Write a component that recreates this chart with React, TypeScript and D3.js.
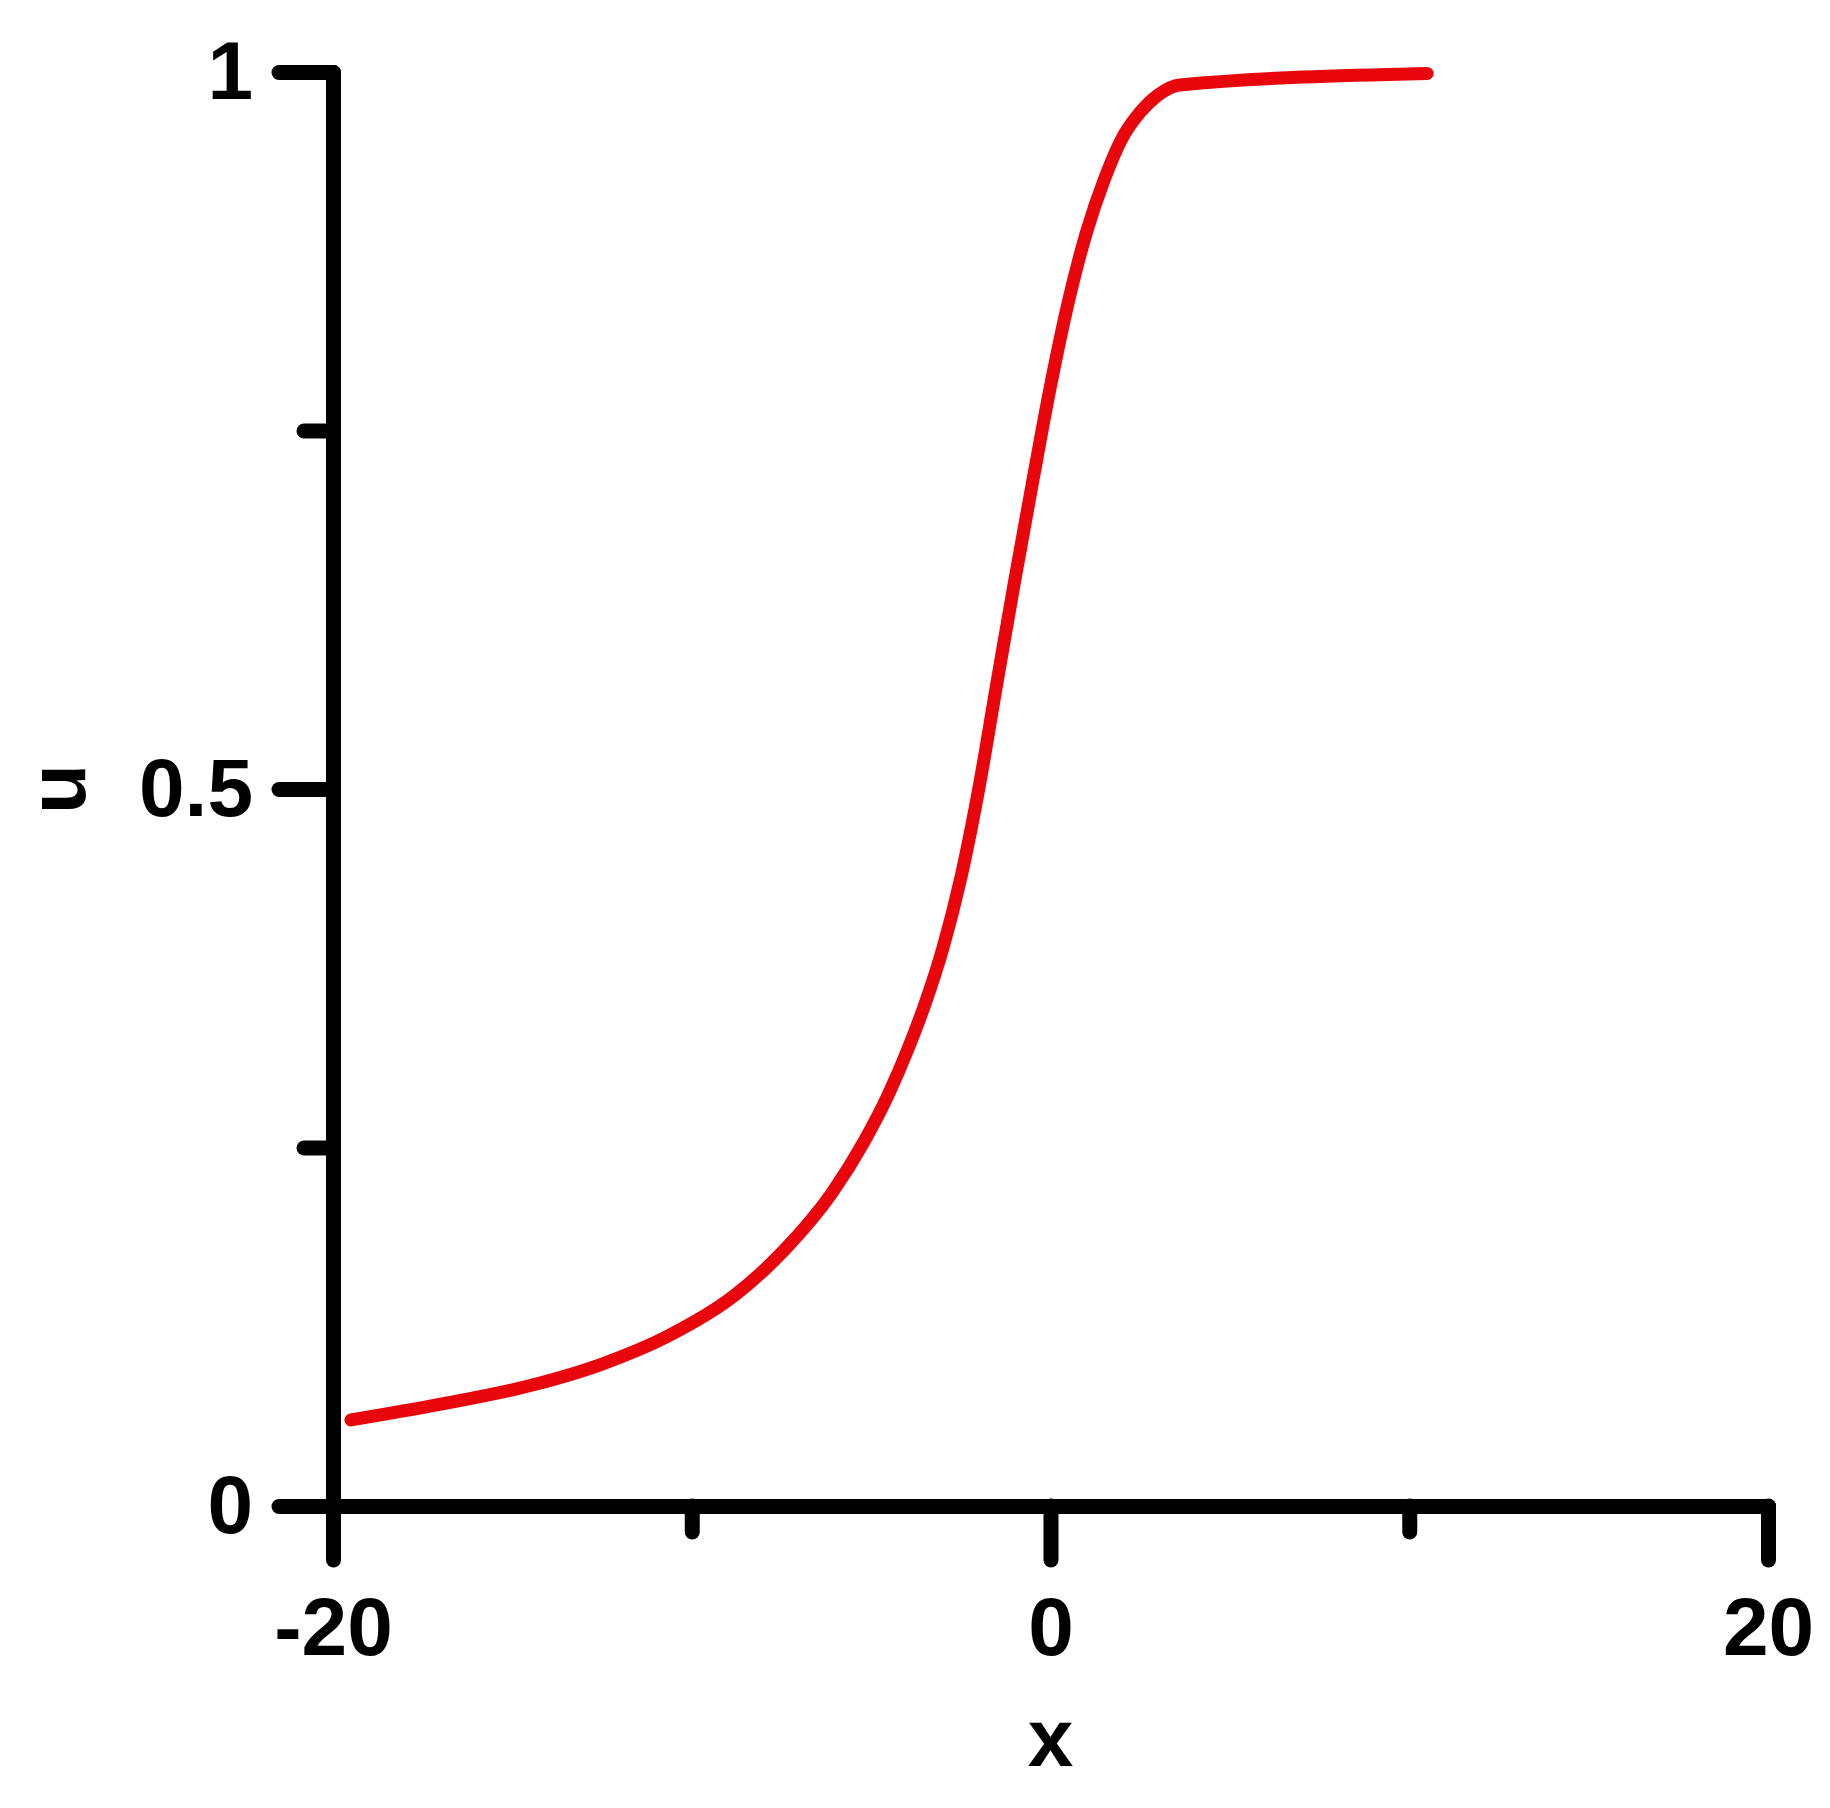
import React, { useEffect, useRef } from 'react'
import * as d3 from 'd3'

// values
const xValues = [-19.5, -17, -14.5, -12.5, -10.7, -8.8, -7.4, -6.1, -5.2, -4.5, -4.0, -3.5, -3.0, -2.5, -2.0, -1.5, -1.0, -0.5, 0.0, 0.5, 1.0, 1.5, 2.0, 2.5, 3.0, 3.6, 10.5]
const uValues = [0.060, 0.071, 0.084, 0.099, 0.118, 0.147, 0.179, 0.218, 0.254, 0.288, 0.317, 0.350, 0.389, 0.438, 0.500, 0.573, 0.645, 0.714, 0.781, 0.840, 0.888, 0.925, 0.954, 0.972, 0.984, 0.991, 0.999]

const xMajorTicks = [-20, 0, 20]
const xMinorTicks = [-10, 10]
const yMajorTicks = [0, 0.5, 1]
const yMinorTicks = [0.25, 0.75]

const width = 1830
const height = 1808
const margin = { top: 72, right: 62, bottom: 302, left: 333 }
const font = 'Liberation Sans, Arimo, Arial, Helvetica, sans-serif'

function App () {
  const ref = useRef<SVGSVGElement>(null)

  useEffect(() => {
    const svg = d3.select(ref.current)
    svg.selectAll('*').remove()

    const x = d3.scaleLinear().domain([-20, 20]).range([margin.left, width - margin.right])
    const y = d3.scaleLinear().domain([0, 1]).range([height - margin.bottom, margin.top])

    const styleAxis = (g: any) => {
      g.attr('font-family', null).attr('font-size', null)
      g.selectAll('path, line')
        .attr('stroke', '#000')
        .attr('stroke-width', 15)
        .attr('stroke-linecap', 'round')
      g.selectAll('text')
        .attr('fill', '#000')
        .style('font-family', font)
        .style('font-weight', 'bold')
        .style('font-size', '82px')
    }

    // minor ticks first, majors on top
    svg.append('g')
      .attr('transform', `translate(${margin.left},0)`)
      .call(d3.axisLeft(y).tickValues(yMinorTicks).tickSize(29).tickSizeOuter(0).tickFormat(() => ''))
      .call(styleAxis)
    svg.append('g')
      .attr('transform', `translate(0,${y(0)})`)
      .call(d3.axisBottom(x).tickValues(xMinorTicks).tickSize(26).tickSizeOuter(0).tickFormat(() => ''))
      .call(styleAxis)

    svg.append('g')
      .attr('transform', `translate(${margin.left},0)`)
      .call(d3.axisLeft(y).tickValues(yMajorTicks).tickSize(54).tickSizeOuter(0).tickPadding(26).tickFormat(d => String(d)))
      .call(styleAxis)
    svg.append('g')
      .attr('transform', `translate(0,${y(0)})`)
      .call(d3.axisBottom(x).tickValues(xMajorTicks).tickSize(54).tickSizeOuter(0).tickPadding(37).tickFormat(d => String(d)))
      .call(styleAxis)

    svg.selectAll('.domain').attr('stroke-linejoin', 'round')

    const line = d3.line<number>()
      .x((d, i) => x(xValues[i]))
      .y(d => y(d))
      .curve(d3.curveMonotoneX)

    svg.append('path')
      .datum(uValues)
      .attr('d', line)
      .attr('fill', 'none')
      .attr('stroke', '#e8060c')
      .attr('stroke-width', 13)
      .attr('stroke-linecap', 'round')
      .attr('stroke-linejoin', 'round')

    svg.append('text')
      .attr('x', x(0))
      .attr('y', 1766)
      .attr('text-anchor', 'middle')
      .style('font-family', font)
      .style('font-weight', 'bold')
      .style('font-size', '82px')
      .text('x')

    svg.append('text')
      .attr('transform', `translate(85,${y(0.5)}) rotate(-90)`)
      .attr('text-anchor', 'middle')
      .style('font-family', font)
      .style('font-weight', 'bold')
      .style('font-size', '82px')
      .text('u')
  }, [])

  return (
    <svg
      ref={ref}
      width={width}
      height={height}
      style={{ position: 'absolute', left: 0, top: 0, background: '#fff' }}
    />
  )
}

export default App
